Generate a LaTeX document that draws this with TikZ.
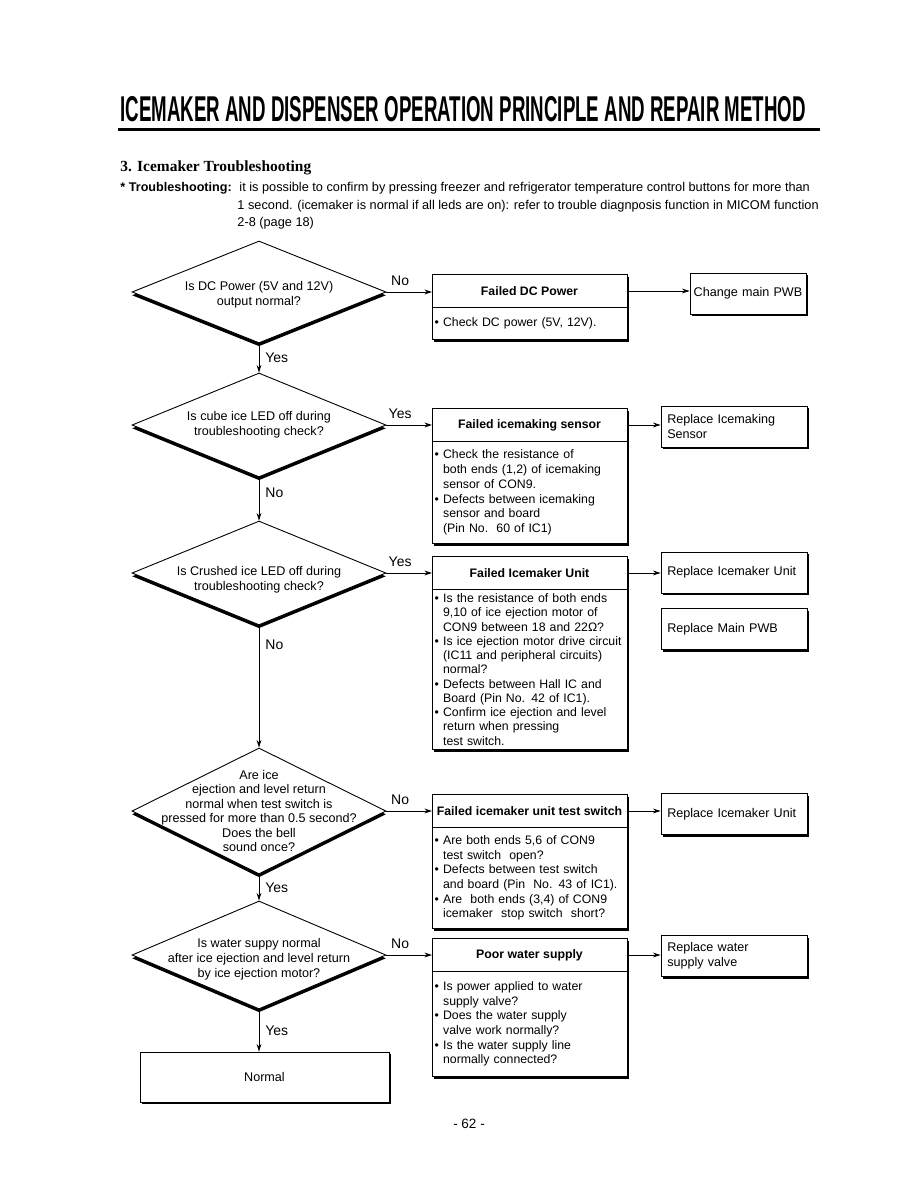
\documentclass[tikz,border=0pt]{standalone}
\usepackage{graphicx}
\usepackage{fontspec}
\setmainfont{Liberation Sans}
\newfontfamily\serifbold{Liberation Serif}
\usetikzlibrary{shapes.geometric,shadows,arrows.meta}

\newcommand{\bul}{\textbullet\ }
\newcommand{\ind}{\hphantom{\textbullet\ }}

\begin{document}
\begin{tikzpicture}[x=0.6667pt, y=-0.6667pt, >={Stealth[length=5pt,width=3.2pt]}, line width=0.6pt,
	font=\fontsize{8.4}{10}\selectfont,
	boxshadow/.style={drop shadow={shadow xshift=1.4pt, shadow yshift=-1.4pt, fill=black, opacity=1}},
	decision/.style={diamond, draw, fill=white, inner sep=0pt, minimum width=169.3pt,
		drop shadow={shadow xshift=0pt, shadow yshift=-2.2pt, fill=black, opacity=1}},
	question/.style={align=center, inner sep=0pt},
	head/.style={rectangle, draw, fill=white, boxshadow, outer sep=0pt, minimum width=130pt, minimum height=22pt,
		inner sep=0pt, font=\fontsize{8.2}{10}\selectfont\bfseries},
	body/.style={rectangle, draw, fill=white, boxshadow, outer sep=0pt, text width=126.4pt, inner xsep=1.8pt,
		inner ysep=0pt, align=left, font=\fontsize{8.2}{9.8}\selectfont},
	fix/.style={rectangle, draw, fill=white, boxshadow, text width=89pt, inner xsep=4.15pt, inner ysep=0pt,
		minimum height=27.3pt, align=left},
	answer/.style={inner sep=0pt, font=\fontsize{9.3}{11}\selectfont}]
	\useasboundingbox (0,0) rectangle (918,1188);
	\fill[white] (0,0) rectangle (918,1188);
	
	% 1. Tieu de trang
	\node[anchor=south west, inner sep=0pt] (title) at (120,122)
		{\resizebox{457pt}{16.7pt}{\bfseries ICEMAKER AND DISPENSER OPERATION PRINCIPLE AND REPAIR METHOD}};
	\draw[line width=2pt] (118,129.5) -- (820,129.5);
	
	\node[anchor=base west, inner sep=0pt, font=\serifbold\bfseries\fontsize{10.3}{12}\selectfont] (sec) at (120,172)
		{3. Icemaker Troubleshooting};
	\node[anchor=base west, inner sep=0pt, font=\fontsize{8.4}{10}\selectfont\bfseries] (intro) at (120,192) {* Troubleshooting:};
	\foreach \xx/\yy/\txt [count=\i] in {239/192/{it is possible to confirm by  pressing freezer and refrigerator temperature control buttons for more than},
		237/210/{1 second. (icemaker is normal if all leds are on): refer to trouble diagnposis function in MICOM function},
		237/227/{2-8 (page 18)}}
		\node[anchor=base west, inner sep=0pt, font=\fontsize{8.5}{10}\selectfont] (intro\i) at (\xx,\yy) {\txt};
	
	% 2. Cac o quyet dinh
	\node[decision, minimum height=68pt] (d1) at (259,292) {};
	\node[question, yshift=-2pt] (q1) at (d1) {Is DC Power (5V and 12V)\\output normal?};
	\node[decision, minimum height=69.3pt] (d2) at (259,425) {};
	\node[question] (q2) at (d2) {Is cube ice LED off during\\troubleshooting check?};
	\node[decision, minimum height=69.3pt] (d3) at (259,573) {};
	\node[question, yshift=-4.5pt] (q3) at (d3) {Is Crushed ice LED off during\\troubleshooting check?};
	\node[decision, minimum height=84pt] (d4) at (259,811) {};
	\node[question, font=\fontsize{8.4}{9.7}\selectfont] (q4) at (d4) {Are ice\\ejection and level return\\normal when test switch is\\pressed for more than 0.5 second?\\Does the bell\\sound once?};
	\node[decision, minimum height=72pt] (d5) at (259,955) {};
	\node[question, yshift=-3pt] (q5) at (d5) {Is water suppy normal\\after ice ejection and level return\\by ice ejection motor?};
	\node[rectangle, draw, fill=white, boxshadow, minimum width=166pt, minimum height=33.3pt] (nrm) at (264.5,1077) {Normal};
	
	% 3. O nguyen nhan
	\node[head] (f1) at (529.5,291) {Failed DC Power};
	\node[body, minimum height=21.3pt, anchor=north] (f1b) at (f1.south) {\bul Check DC power (5V, 12V).};
	
	\node[head] (f2) at (529.5,425) {Failed icemaking sensor};
	\node[body, minimum height=68pt, anchor=north] (f2b) at (f2.south)
		{\bul Check the resistance of\\\ind both ends (1,2) of icemaking\\\ind sensor of CON9.\\
		\bul Defects between icemaking\\\ind sensor and board\\\ind (Pin No.\ \ 60 of IC1)};
	
	\node[head] (f3) at (529.5,573) {Failed Icemaker Unit};
	\node[body, minimum height=106.7pt, anchor=north, font=\fontsize{8.2}{9.5}\selectfont] (f3b) at (f3.south)
		{\bul Is the resistance of both ends\\\ind 9,10 of ice ejection motor of\\\ind CON9 between 18 and 22Ω?\\
		\bul Is ice ejection motor drive circuit\\\ind (IC11 and peripheral circuits)\\\ind normal?\\
		\bul Defects between Hall IC and\\\ind Board (Pin No. 42 of IC1).\\
		\bul Confirm ice ejection and level\\\ind return when pressing\\\ind test switch.};
	
	\node[head] (f4) at (529.5,811) {Failed icemaker unit test switch};
	\node[body, minimum height=67.3pt, anchor=north] (f4b) at (f4.south)
		{\bul Are both ends 5,6 of CON9\\\ind test switch\ \ open?\\
		\bul Defects between test switch\\\ind and board (Pin\ \ No. 43 of IC1).\\
		\bul Are\ \ both ends (3,4) of CON9\\\ind icemaker\ \ stop switch\ \ short?};
	
	\node[head] (f5) at (529.5,955) {Poor water supply};
	\node[body, minimum height=70pt, anchor=north] (f5b) at (f5.south)
		{\bul Is power applied to water\\\ind supply valve?\\
		\bul Does the water supply\\\ind valve work normally?\\
		\bul Is the water supply line\\\ind normally connected?};
	
	% 4. O sua chua
	\node[fix, text width=76pt, inner xsep=0.65pt, align=center] (r1) at (748,293.5) {Change main PWB};
	\node[fix] (r2) at (734,426.5) {Replace Icemaking\\Sensor};
	\node[fix] (r3) at (734,572.5) {Replace Icemaker Unit};
	\node[fix] (r4) at (734,629) {Replace Main PWB};
	\node[fix] (r5) at (734,814) {Replace Icemaker Unit};
	\node[fix] (r6) at (734,956) {Replace water\\supply valve};
	
	% 5. Mui ten
	\foreach \d/\f/\ans in {d1/f1/No, d2/f2/Yes, d3/f3/Yes, d4/f4/No, d5/f5/No}
		\draw[->] (\d.east) -- (\d.east -| \f.west) node[answer, pos=0.3, above=4pt] (a\d) {\ans};
	\foreach \a/\b/\ans/\p in {d1/d2/Yes/0.5, d2/d3/No/0.35, d3/d4/No/0.16, d4/d5/Yes/0.5}
		\draw[->] (\a.south) -- (\b.north) node[answer, pos=\p, right=4pt] (v\a) {\ans};
	\draw[->] (d5.south) -- (d5.south |- nrm.north) node[answer, midway, right=4pt] (vd5) {Yes};
	\foreach \f/\r in {f1/r1, f2/r2, f3/r3, f4/r5, f5/r6}
		\draw[->] (\f.east) -- (\f.east -| \r.west);
	
	\node[anchor=base, inner sep=0pt, font=\fontsize{9}{11}\selectfont] (page) at (469,1128) {- 62 -};
\end{tikzpicture}
\end{document}
